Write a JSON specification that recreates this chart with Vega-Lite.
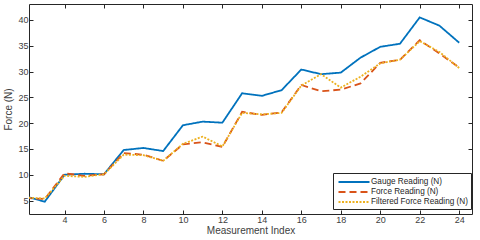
{
  "$schema": "https://vega.github.io/schema/vega-lite/v6.json",
  "width": 443,
  "height": 210,
  "autosize": {"type": "none"},
  "padding": {"left": 29, "top": 4, "right": 8, "bottom": 26},
  "background": "white",
  "config": {
    "font": "Liberation Sans",
    "view": {"stroke": null},
    "axis": {
      "labelFont": "Liberation Sans",
      "titleFont": "Liberation Sans",
      "labelFontSize": 9,
      "titleFontSize": 10,
      "titleFontWeight": "normal",
      "labelColor": "#404040",
      "titleColor": "#404040",
      "domainColor": "#262626",
      "tickColor": "#262626",
      "domainWidth": 1,
      "tickWidth": 1,
      "grid": false
    }
  },
  "data": {
    "values": [
      {"x": 2, "s": "Gauge Reading (N)", "v": 5.8},
      {"x": 3, "s": "Gauge Reading (N)", "v": 4.8},
      {"x": 4, "s": "Gauge Reading (N)", "v": 10.0},
      {"x": 5, "s": "Gauge Reading (N)", "v": 10.2},
      {"x": 6, "s": "Gauge Reading (N)", "v": 10.1},
      {"x": 7, "s": "Gauge Reading (N)", "v": 14.8},
      {"x": 8, "s": "Gauge Reading (N)", "v": 15.2},
      {"x": 9, "s": "Gauge Reading (N)", "v": 14.6},
      {"x": 10, "s": "Gauge Reading (N)", "v": 19.6},
      {"x": 11, "s": "Gauge Reading (N)", "v": 20.3},
      {"x": 12, "s": "Gauge Reading (N)", "v": 20.1},
      {"x": 13, "s": "Gauge Reading (N)", "v": 25.8},
      {"x": 14, "s": "Gauge Reading (N)", "v": 25.3},
      {"x": 15, "s": "Gauge Reading (N)", "v": 26.4},
      {"x": 16, "s": "Gauge Reading (N)", "v": 30.4},
      {"x": 17, "s": "Gauge Reading (N)", "v": 29.5},
      {"x": 18, "s": "Gauge Reading (N)", "v": 29.8},
      {"x": 19, "s": "Gauge Reading (N)", "v": 32.7},
      {"x": 20, "s": "Gauge Reading (N)", "v": 34.8},
      {"x": 21, "s": "Gauge Reading (N)", "v": 35.4},
      {"x": 22, "s": "Gauge Reading (N)", "v": 40.5},
      {"x": 23, "s": "Gauge Reading (N)", "v": 38.9},
      {"x": 24, "s": "Gauge Reading (N)", "v": 35.6},
      {"x": 2, "s": "Force Reading (N)", "v": 5.5},
      {"x": 3, "s": "Force Reading (N)", "v": 5.3},
      {"x": 4, "s": "Force Reading (N)", "v": 10.3},
      {"x": 5, "s": "Force Reading (N)", "v": 9.8},
      {"x": 6, "s": "Force Reading (N)", "v": 10.1},
      {"x": 7, "s": "Force Reading (N)", "v": 14.2},
      {"x": 8, "s": "Force Reading (N)", "v": 13.9},
      {"x": 9, "s": "Force Reading (N)", "v": 12.7},
      {"x": 10, "s": "Force Reading (N)", "v": 15.9},
      {"x": 11, "s": "Force Reading (N)", "v": 16.3},
      {"x": 12, "s": "Force Reading (N)", "v": 15.4},
      {"x": 13, "s": "Force Reading (N)", "v": 22.2},
      {"x": 14, "s": "Force Reading (N)", "v": 21.6},
      {"x": 15, "s": "Force Reading (N)", "v": 22.1},
      {"x": 16, "s": "Force Reading (N)", "v": 27.4},
      {"x": 17, "s": "Force Reading (N)", "v": 26.2},
      {"x": 18, "s": "Force Reading (N)", "v": 26.5},
      {"x": 19, "s": "Force Reading (N)", "v": 27.7},
      {"x": 20, "s": "Force Reading (N)", "v": 31.7},
      {"x": 21, "s": "Force Reading (N)", "v": 32.3},
      {"x": 22, "s": "Force Reading (N)", "v": 36.1},
      {"x": 23, "s": "Force Reading (N)", "v": 33.5},
      {"x": 24, "s": "Force Reading (N)", "v": 30.8},
      {"x": 2, "s": "Filtered Force Reading (N)", "v": 5.6},
      {"x": 3, "s": "Filtered Force Reading (N)", "v": 5.4},
      {"x": 4, "s": "Filtered Force Reading (N)", "v": 9.8},
      {"x": 5, "s": "Filtered Force Reading (N)", "v": 9.6},
      {"x": 6, "s": "Filtered Force Reading (N)", "v": 10.1},
      {"x": 7, "s": "Filtered Force Reading (N)", "v": 13.9},
      {"x": 8, "s": "Filtered Force Reading (N)", "v": 13.8},
      {"x": 9, "s": "Filtered Force Reading (N)", "v": 12.7},
      {"x": 10, "s": "Filtered Force Reading (N)", "v": 16.0},
      {"x": 11, "s": "Filtered Force Reading (N)", "v": 17.4},
      {"x": 12, "s": "Filtered Force Reading (N)", "v": 15.5},
      {"x": 13, "s": "Filtered Force Reading (N)", "v": 22.0},
      {"x": 14, "s": "Filtered Force Reading (N)", "v": 21.7},
      {"x": 15, "s": "Filtered Force Reading (N)", "v": 22.0},
      {"x": 16, "s": "Filtered Force Reading (N)", "v": 27.3},
      {"x": 17, "s": "Filtered Force Reading (N)", "v": 29.5},
      {"x": 18, "s": "Filtered Force Reading (N)", "v": 26.9},
      {"x": 19, "s": "Filtered Force Reading (N)", "v": 29.0},
      {"x": 20, "s": "Filtered Force Reading (N)", "v": 31.6},
      {"x": 21, "s": "Filtered Force Reading (N)", "v": 32.3},
      {"x": 22, "s": "Filtered Force Reading (N)", "v": 35.9},
      {"x": 23, "s": "Filtered Force Reading (N)", "v": 33.8},
      {"x": 24, "s": "Filtered Force Reading (N)", "v": 30.7}
    ]
  },
  "layer": [
    {
      "mark": {"type": "line", "strokeWidth": 1.8, "clip": true},
      "encoding": {
        "x": {
          "field": "x", "type": "quantitative",
          "scale": {"domain": [2.2, 24.65], "nice": false, "zero": false},
          "axis": {"values": [4, 6, 8, 10, 12, 14, 16, 18, 20, 22, 24], "title": "Measurement Index", "tickSize": -4, "labelPadding": 5, "titlePadding": 1}
        },
        "y": {
          "field": "v", "type": "quantitative",
          "scale": {"domain": [2.4, 43.1], "nice": false, "zero": false},
          "axis": {"values": [5, 10, 15, 20, 25, 30, 35, 40], "title": "Force (N)", "tickSize": -4, "labelPadding": 5, "titlePadding": 4}
        },
        "color": {
          "field": "s", "type": "nominal",
          "scale": {"domain": ["Gauge Reading (N)", "Force Reading (N)", "Filtered Force Reading (N)"], "range": ["#0072BD", "#D95319", "#EDB120"]},
          "legend": {
            "title": null, "orient": "none", "legendX": 304, "legendY": 169,
            "symbolType": "M-3.1,0H3.1", "symbolSize": 100, "symbolStrokeWidth": 1.8,
            "labelFontSize": 8.2, "labelColor": "#262626", "labelFont": "Liberation Sans",
            "strokeColor": "#262626", "fillColor": "white", "padding": 3, "rowPadding": 0, "labelOffset": 11,
            "symbolOffset": 12
          }
        },
        "strokeDash": {
          "field": "s", "type": "nominal",
          "scale": {"domain": ["Gauge Reading (N)", "Force Reading (N)", "Filtered Force Reading (N)"], "range": [[1, 0], [7, 4], [2, 1.5]]},
          "legend": null
        }
      }
    },
    {
      "mark": {"type": "rule", "opacity": 0},
      "encoding": {
        "x": {"field": "x", "type": "quantitative", "axis": {"orient": "top", "values": [4, 6, 8, 10, 12, 14, 16, 18, 20, 22, 24], "labels": false, "title": null, "tickSize": -4}},
        "y": {"field": "v", "type": "quantitative", "axis": {"orient": "right", "values": [5, 10, 15, 20, 25, 30, 35, 40], "labels": false, "title": null, "tickSize": -4}}
      }
    }
  ],
  "resolve": {"axis": {"x": "independent", "y": "independent"}}
}
